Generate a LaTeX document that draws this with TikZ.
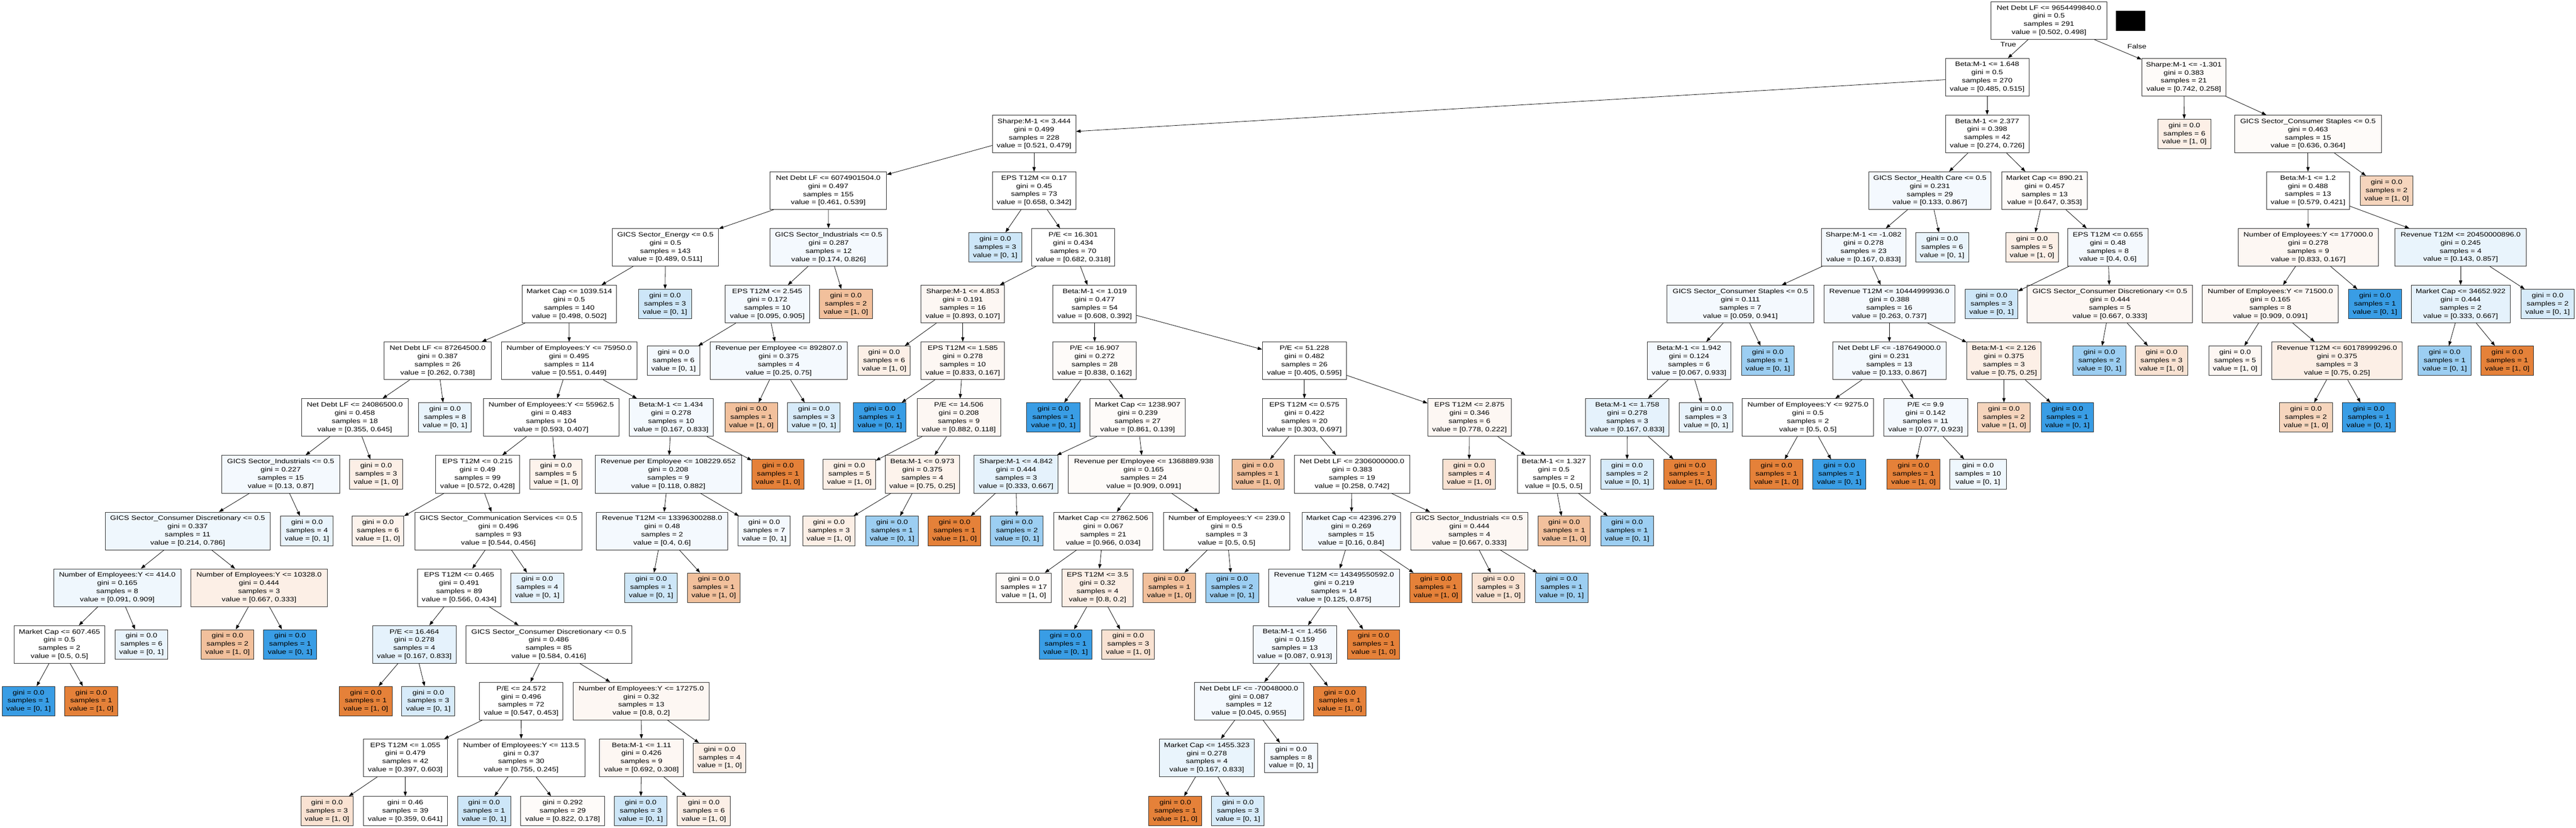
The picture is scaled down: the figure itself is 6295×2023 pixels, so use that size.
\documentclass[tikz,border=0pt]{standalone}
\usepackage{fontspec}
\setmainfont{Liberation Sans}[FakeStretch=1.22]
\usetikzlibrary{arrows.meta}
\definecolor{Ofull}{HTML}{E58139}
\definecolor{Bfull}{HTML}{399DE5}
\definecolor{Om}{HTML}{F2C09C}
\definecolor{Ol}{HTML}{F6D5BD}
\definecolor{Oltwo}{HTML}{F9E2D2}
\definecolor{Op}{HTML}{FCEFE6}
\definecolor{Optwo}{HTML}{FDF3EC}
\definecolor{Ovp}{HTML}{FDF7F3}
\definecolor{Oxp}{HTML}{FEFBF9}
\definecolor{Bm}{HTML}{9CCEF2}
\definecolor{Bl}{HTML}{CDE6F8}
\definecolor{Bltwo}{HTML}{D7EBFA}
\definecolor{Bptwo}{HTML}{E5F2FC}
\definecolor{Bp}{HTML}{E9F4FC}
\definecolor{Bq}{HTML}{EFF7FD}
\definecolor{Bvp}{HTML}{F4F9FE}
\definecolor{W}{HTML}{FFFFFF}
\newcommand{\nd}[6]{\node[#5,fill=#4,minimum width=#3bp] (#1) at (#2) {#6};}
\newcommand{\lf}[6]{\node[leafbox,fill=#4,minimum width=#3bp] (#1) at (#2) {gini = 0.0\\samples = #5\\value = #6};}
\begin{document}
\begin{tikzpicture}[x=1bp,y=-1bp,
  box/.style={draw=black!85,line width=1.1bp,rectangle,align=center,inner sep=0pt,
    font=\fontsize{15.5bp}{20bp}\selectfont},
  splitbox/.style={box,minimum height=92bp},
  leafbox/.style={box,minimum height=72bp},
  edge/.style={line width=1bp,-{Triangle[length=11bp,width=8bp]}},
  lbl/.style={font=\fontsize{15.5bp}{20bp}\selectfont,inner sep=0pt}]
\fill[white] (0,0) rectangle (6295,2023);
\useasboundingbox (0,0) rectangle (6295,2023);
% rank 0
\nd{n0}{5007,50}{284}{W}{splitbox}{Net Debt LF <= 9654499840.0\\gini = 0.5\\samples = 291\\value = [0.502, 0.498]}
\node[fill=black,minimum width=72bp,minimum height=49bp,inner sep=0pt] (blk) at (5207,50.5) {};
% rank 1
\nd{n1}{4856,188.6}{204}{W}{splitbox}{Beta:M-1 <= 1.648\\gini = 0.5\\samples = 270\\value = [0.485, 0.515]}
\nd{n2}{5336.5,188.6}{205}{Oxp}{splitbox}{Sharpe:M-1 <= -1.301\\gini = 0.383\\samples = 21\\value = [0.742, 0.258]}
% rank 2
\nd{n3}{2527,327.2}{204}{W}{splitbox}{Sharpe:M-1 <= 3.444\\gini = 0.499\\samples = 228\\value = [0.521, 0.479]}
\nd{n4}{4856,327.2}{204}{W}{splitbox}{Beta:M-1 <= 2.377\\gini = 0.398\\samples = 42\\value = [0.274, 0.726]}
\lf{n5}{5338,327.2}{130}{Op}{6}{[1, 0]}
\nd{n6}{5640,327.2}{358}{Oxp}{splitbox}{GICS Sector\_Consumer Staples <= 0.5\\gini = 0.463\\samples = 15\\value = [0.636, 0.364]}
% rank 3
\nd{n7}{2024,465.8}{285}{W}{splitbox}{Net Debt LF <= 6074901504.0\\gini = 0.497\\samples = 155\\value = [0.461, 0.539]}
\nd{n8}{2527,465.8}{204}{W}{splitbox}{EPS T12M <= 0.17\\gini = 0.45\\samples = 73\\value = [0.658, 0.342]}
\nd{n9}{4716,465.8}{298}{Bvp}{splitbox}{GICS Sector\_Health Care <= 0.5\\gini = 0.231\\samples = 29\\value = [0.133, 0.867]}
\nd{n10}{4996.5,465.8}{209}{Oxp}{splitbox}{Market Cap <= 890.21\\gini = 0.457\\samples = 13\\value = [0.647, 0.353]}
\nd{n11}{5640,465.8}{203}{W}{splitbox}{Beta:M-1 <= 1.2\\gini = 0.488\\samples = 13\\value = [0.579, 0.421]}
\lf{n12}{5832,465.8}{128}{Ol}{2}{[1, 0]}
% rank 4
\nd{n13}{1626,604.4}{260}{W}{splitbox}{GICS Sector\_Energy <= 0.5\\gini = 0.5\\samples = 143\\value = [0.489, 0.511]}
\nd{n14}{2025,604.4}{286}{Bvp}{splitbox}{GICS Sector\_Industrials <= 0.5\\gini = 0.287\\samples = 12\\value = [0.174, 0.826]}
\lf{n15}{2432,604.4}{129}{Bl}{3}{[0, 1]}
\nd{n16}{2622.5,604.4}{202}{W}{splitbox}{P/E <= 16.301\\gini = 0.434\\samples = 70\\value = [0.682, 0.318]}
\nd{n17}{4554,604.4}{207}{Bvp}{splitbox}{Sharpe:M-1 <= -1.082\\gini = 0.278\\samples = 23\\value = [0.167, 0.833]}
\lf{n18}{4746,604.4}{129}{Bp}{6}{[0, 1]}
\lf{n19}{4965.6,604.4}{128}{Op}{5}{[1, 0]}
\nd{n20}{5151,604.4}{197}{Bvp}{splitbox}{EPS T12M <= 0.655\\gini = 0.48\\samples = 8\\value = [0.4, 0.6]}
\nd{n21}{5640.6,604.4}{342}{Ovp}{splitbox}{Number of Employees:Y <= 177000.0\\gini = 0.278\\samples = 9\\value = [0.833, 0.167]}
\nd{n22}{6013,604.4}{321}{Bp}{splitbox}{Revenue T12M <= 20450000896.0\\gini = 0.245\\samples = 4\\value = [0.143, 0.857]}
% rank 5
\nd{n23}{1391,743}{230}{W}{splitbox}{Market Cap <= 1039.514\\gini = 0.5\\samples = 140\\value = [0.498, 0.502]}
\lf{n24}{1625,743}{130}{Bl}{3}{[0, 1]}
\nd{n25}{1875,743}{206}{Bvp}{splitbox}{EPS T12M <= 2.545\\gini = 0.172\\samples = 10\\value = [0.095, 0.905]}
\lf{n26}{2067,743}{130}{Om}{2}{[1, 0]}
\nd{n27}{2352.7,743}{204}{Ovp}{splitbox}{Sharpe:M-1 <= 4.853\\gini = 0.191\\samples = 16\\value = [0.893, 0.107]}
\nd{n28}{2675,743}{204}{W}{splitbox}{Beta:M-1 <= 1.019\\gini = 0.477\\samples = 54\\value = [0.608, 0.392]}
\nd{n29}{4253,743}{359}{Bvp}{splitbox}{GICS Sector\_Consumer Staples <= 0.5\\gini = 0.111\\samples = 7\\value = [0.059, 0.941]}
\nd{n30}{4617,743}{320}{Bvp}{splitbox}{Revenue T12M <= 10444999936.0\\gini = 0.388\\samples = 16\\value = [0.263, 0.737]}
\lf{n31}{4866.6,743}{129}{Bl}{3}{[0, 1]}
\nd{n32}{5156,743}{404}{Ovp}{splitbox}{GICS Sector\_Consumer Discretionary <= 0.5\\gini = 0.444\\samples = 5\\value = [0.667, 0.333]}
\nd{n33}{5548,743}{332}{Ovp}{splitbox}{Number of Employees:Y <= 71500.0\\gini = 0.165\\samples = 8\\value = [0.909, 0.091]}
\lf{n34}{5803.6,743}{129}{Bfull}{1}{[0, 1]}
\nd{n35}{6013,743}{241.5}{Bptwo}{splitbox}{Market Cap <= 34652.922\\gini = 0.444\\samples = 2\\value = [0.333, 0.667]}
\lf{n36}{6225.6,743}{130}{Bltwo}{2}{[0, 1]}
% rank 6
\nd{n37}{1069.5,881.6}{261}{W}{splitbox}{Net Debt LF <= 87264500.0\\gini = 0.387\\samples = 26\\value = [0.262, 0.738]}
\nd{n38}{1390.7,881.6}{331}{W}{splitbox}{Number of Employees:Y <= 75950.0\\gini = 0.495\\samples = 114\\value = [0.551, 0.449]}
\lf{n39}{1646,881.6}{128.5}{Bvp}{6}{[0, 1]}
\nd{n40}{1903,881.6}{335}{Bvp}{splitbox}{Revenue per Employee <= 892807.0\\gini = 0.375\\samples = 4\\value = [0.25, 0.75]}
\lf{n41}{2160.5,881.6}{127}{Op}{6}{[1, 0]}
\nd{n42}{2352.7,881.6}{204}{Ovp}{splitbox}{EPS T12M <= 1.585\\gini = 0.278\\samples = 10\\value = [0.833, 0.167]}
\nd{n43}{2675,881.6}{204}{Oxp}{splitbox}{P/E <= 16.907\\gini = 0.272\\samples = 28\\value = [0.838, 0.162]}
\nd{n44}{3187.5,881.6}{205}{W}{splitbox}{P/E <= 51.228\\gini = 0.482\\samples = 26\\value = [0.405, 0.595]}
\nd{n45}{4127.5,881.6}{205}{Bvp}{splitbox}{Beta:M-1 <= 1.942\\gini = 0.124\\samples = 6\\value = [0.067, 0.933]}
\lf{n46}{4320,881.6}{127.5}{Bm}{1}{[0, 1]}
\nd{n47}{4617,881.6}{276.6}{Bvp}{splitbox}{Net Debt LF <= -187649000.0\\gini = 0.231\\samples = 13\\value = [0.133, 0.867]}
\nd{n48}{4897,881.6}{181.5}{Op}{splitbox}{Beta:M-1 <= 2.126\\gini = 0.375\\samples = 3\\value = [0.75, 0.25]}
\lf{n49}{5130,881.6}{129}{Bm}{2}{[0, 1]}
\lf{n50}{5282,881.6}{129}{Oltwo}{3}{[1, 0]}
\lf{n51}{5462,881.6}{129}{Ovp}{5}{[1, 0]}
\nd{n52}{5711,881.6}{319}{Op}{splitbox}{Revenue T12M <= 60178999296.0\\gini = 0.375\\samples = 3\\value = [0.75, 0.25]}
\lf{n53}{5974,881.6}{130}{Bm}{1}{[0, 1]}
\lf{n54}{6127,881.6}{129}{Ofull}{1}{[1, 0]}
% rank 7
\nd{n55}{867,1020.2}{261}{W}{splitbox}{Net Debt LF <= 24086500.0\\gini = 0.458\\samples = 18\\value = [0.355, 0.645]}
\lf{n56}{1087.5,1020.2}{128.6}{Bp}{8}{[0, 1]}
\nd{n57}{1347,1020.2}{332}{W}{splitbox}{Number of Employees:Y <= 55962.5\\gini = 0.483\\samples = 104\\value = [0.593, 0.407]}
\nd{n58}{1640,1020.2}{205}{Bvp}{splitbox}{Beta:M-1 <= 1.434\\gini = 0.278\\samples = 10\\value = [0.167, 0.833]}
\lf{n59}{1836,1020.2}{128.6}{Om}{1}{[1, 0]}
\lf{n60}{1989,1020.2}{128.6}{Bltwo}{3}{[0, 1]}
\lf{n61}{2150,1020.2}{128.6}{Bfull}{1}{[0, 1]}
\nd{n62}{2343,1020.2}{204}{Ovp}{splitbox}{P/E <= 14.506\\gini = 0.208\\samples = 9\\value = [0.882, 0.118]}
\lf{n63}{2574,1020.2}{130}{Bfull}{1}{[0, 1]}
\nd{n64}{2780,1020.2}{233}{Oxp}{splitbox}{Market Cap <= 1238.907\\gini = 0.239\\samples = 27\\value = [0.861, 0.139]}
\nd{n65}{3187.5,1020.2}{205}{W}{splitbox}{EPS T12M <= 0.575\\gini = 0.422\\samples = 20\\value = [0.303, 0.697]}
\nd{n66}{3591,1020.2}{204}{Ovp}{splitbox}{EPS T12M <= 2.875\\gini = 0.346\\samples = 6\\value = [0.778, 0.222]}
\nd{n67}{3976.5,1020.2}{205}{Bptwo}{splitbox}{Beta:M-1 <= 1.758\\gini = 0.278\\samples = 3\\value = [0.167, 0.833]}
\lf{n68}{4169,1020.2}{130}{Bp}{3}{[0, 1]}
\nd{n69}{4418,1020.2}{320.5}{W}{splitbox}{Number of Employees:Y <= 9275.0\\gini = 0.5\\samples = 2\\value = [0.5, 0.5]}
\nd{n70}{4705.5,1020.2}{205}{Bvp}{splitbox}{P/E <= 9.9\\gini = 0.142\\samples = 11\\value = [0.077, 0.923]}
\lf{n71}{4897,1020.2}{129}{Ol}{2}{[1, 0]}
\lf{n72}{5052,1020.2}{127}{Bfull}{1}{[0, 1]}
\lf{n73}{5635,1020.2}{129}{Ol}{2}{[1, 0]}
\lf{n74}{5788.6,1020.2}{129}{Bfull}{1}{[0, 1]}
% rank 8
\nd{n75}{686,1158.8}{288}{Bvp}{splitbox}{GICS Sector\_Industrials <= 0.5\\gini = 0.227\\samples = 15\\value = [0.13, 0.87]}
\lf{n76}{919,1158.8}{128.6}{Op}{3}{[1, 0]}
\nd{n77}{1167,1158.8}{205}{W}{splitbox}{EPS T12M <= 0.215\\gini = 0.49\\samples = 99\\value = [0.572, 0.428]}
\lf{n78}{1358.6,1158.8}{127}{Optwo}{5}{[1, 0]}
\nd{n79}{1633,1158.8}{357.6}{Bvp}{splitbox}{Revenue per Employee <= 108229.652\\gini = 0.208\\samples = 9\\value = [0.118, 0.882]}
\lf{n80}{1901,1158.8}{127}{Ofull}{1}{[1, 0]}
\lf{n81}{2075.5,1158.8}{128}{Op}{5}{[1, 0]}
\nd{n82}{2254,1158.8}{181}{Optwo}{splitbox}{Beta:M-1 <= 0.973\\gini = 0.375\\samples = 4\\value = [0.75, 0.25]}
\nd{n83}{2483,1158.8}{205}{Bptwo}{splitbox}{Sharpe:M-1 <= 4.842\\gini = 0.444\\samples = 3\\value = [0.333, 0.667]}
\nd{n84}{2795,1158.8}{368}{Oxp}{splitbox}{Revenue per Employee <= 1368889.938\\gini = 0.165\\samples = 24\\value = [0.909, 0.091]}
\lf{n85}{3074,1158.8}{127}{Om}{1}{[1, 0]}
\nd{n86}{3304,1158.8}{282.6}{W}{splitbox}{Net Debt LF <= 2306000000.0\\gini = 0.383\\samples = 19\\value = [0.258, 0.742]}
\lf{n87}{3590,1158.8}{128.6}{Oltwo}{4}{[1, 0]}
\nd{n88}{3797,1158.8}{178}{W}{splitbox}{Beta:M-1 <= 1.327\\gini = 0.5\\samples = 2\\value = [0.5, 0.5]}
\lf{n89}{3976,1158.8}{128.6}{Bltwo}{2}{[0, 1]}
\lf{n90}{4130,1158.8}{129}{Ofull}{1}{[1, 0]}
\lf{n91}{4341,1158.8}{129}{Ofull}{1}{[1, 0]}
\lf{n92}{4494.6,1158.8}{129}{Bfull}{1}{[0, 1]}
\lf{n93}{4676,1158.8}{129}{Ofull}{1}{[1, 0]}
\lf{n94}{4833.5,1158.8}{139}{Bq}{10}{[0, 1]}
% rank 9
\nd{n95}{458.6,1297.4}{403}{Bq}{splitbox}{GICS Sector\_Consumer Discretionary <= 0.5\\gini = 0.337\\samples = 11\\value = [0.214, 0.786]}
\lf{n96}{750,1297.4}{128.6}{Bp}{4}{[0, 1]}
\lf{n97}{923.4,1297.4}{127}{Optwo}{6}{[1, 0]}
\nd{n98}{1218,1297.4}{408.5}{W}{splitbox}{GICS Sector\_Communication Services <= 0.5\\gini = 0.496\\samples = 93\\value = [0.544, 0.456]}
\nd{n99}{1618,1297.4}{321.4}{Bvp}{splitbox}{Revenue T12M <= 13396300288.0\\gini = 0.48\\samples = 2\\value = [0.4, 0.6]}
\lf{n100}{1867.5,1297.4}{127}{Bvp}{7}{[0, 1]}
\lf{n101}{2025.5,1297.4}{127}{Op}{3}{[1, 0]}
\lf{n102}{2180,1297.4}{128.6}{Bm}{1}{[0, 1]}
\lf{n103}{2332.6,1297.4}{128.6}{Ofull}{1}{[1, 0]}
\lf{n104}{2485,1297.4}{128.6}{Bm}{2}{[0, 1]}
\nd{n105}{2696,1297.4}{242}{Oxp}{splitbox}{Market Cap <= 27862.506\\gini = 0.067\\samples = 21\\value = [0.966, 0.034]}
\nd{n106}{2997.5,1297.4}{309}{W}{splitbox}{Number of Employees:Y <= 239.0\\gini = 0.5\\samples = 3\\value = [0.5, 0.5]}
\nd{n107}{3302,1297.4}{241}{Bvp}{splitbox}{Market Cap <= 42396.279\\gini = 0.269\\samples = 15\\value = [0.16, 0.84]}
\nd{n108}{3590.7,1297.4}{285}{Ovp}{splitbox}{GICS Sector\_Industrials <= 0.5\\gini = 0.444\\samples = 4\\value = [0.667, 0.333]}
\lf{n109}{3822.5,1297.4}{127}{Om}{1}{[1, 0]}
\lf{n110}{3976,1297.4}{128.6}{Bm}{1}{[0, 1]}
% rank 10
\nd{n111}{286.6,1436}{311}{Bq}{splitbox}{Number of Employees:Y <= 414.0\\gini = 0.165\\samples = 8\\value = [0.091, 0.909]}
\nd{n112}{633,1436}{333.5}{Op}{splitbox}{Number of Employees:Y <= 10328.0\\gini = 0.444\\samples = 3\\value = [0.667, 0.333]}
\nd{n113}{1122,1436}{203.6}{W}{splitbox}{EPS T12M <= 0.465\\gini = 0.491\\samples = 89\\value = [0.566, 0.434]}
\lf{n114}{1313,1436}{130}{Bptwo}{4}{[0, 1]}
\lf{n115}{1591,1436}{128.6}{Bl}{1}{[0, 1]}
\lf{n116}{1744,1436}{128.6}{Om}{1}{[1, 0]}
\lf{n117}{2502,1436}{135}{Oxp}{17}{[1, 0]}
\nd{n118}{2682,1436}{174}{Op}{splitbox}{EPS T12M <= 3.5\\gini = 0.32\\samples = 4\\value = [0.8, 0.2]}
\lf{n119}{2857.5,1436}{128.6}{Om}{1}{[1, 0]}
\lf{n120}{3011,1436}{130}{Bm}{2}{[0, 1]}
\nd{n121}{3260,1436}{320}{Bvp}{splitbox}{Revenue T12M <= 14349550592.0\\gini = 0.219\\samples = 14\\value = [0.125, 0.875]}
\lf{n122}{3509,1436}{127}{Ofull}{1}{[1, 0]}
\lf{n123}{3662,1436}{128.6}{Oltwo}{3}{[1, 0]}
\lf{n124}{3816,1436}{128.6}{Bm}{1}{[0, 1]}
% rank 11
\nd{n125}{145.3,1574.6}{221}{W}{splitbox}{Market Cap <= 607.465\\gini = 0.5\\samples = 2\\value = [0.5, 0.5]}
\lf{n126}{345.6,1574.6}{128.6}{Bp}{6}{[0, 1]}
\lf{n127}{556,1574.6}{128.6}{Om}{2}{[1, 0]}
\lf{n128}{709,1574.6}{130}{Bfull}{1}{[0, 1]}
\nd{n129}{1012.4,1574.6}{203.6}{Bptwo}{splitbox}{P/E <= 16.464\\gini = 0.278\\samples = 4\\value = [0.167, 0.833]}
\nd{n130}{1341,1574.6}{405.8}{W}{splitbox}{GICS Sector\_Consumer Discretionary <= 0.5\\gini = 0.486\\samples = 85\\value = [0.584, 0.416]}
\lf{n131}{2604,1574.6}{128.6}{Bfull}{1}{[0, 1]}
\lf{n132}{2757,1574.6}{128.6}{Oltwo}{3}{[1, 0]}
\nd{n133}{3164,1574.6}{203.6}{Bvp}{splitbox}{Beta:M-1 <= 1.456\\gini = 0.159\\samples = 13\\value = [0.087, 0.913]}
\lf{n134}{3356.5,1574.6}{127}{Ofull}{1}{[1, 0]}
% rank 12
\lf{n135}{69.6,1713.2}{128.6}{Bfull}{1}{[0, 1]}
\lf{n136}{223,1713.2}{130}{Ofull}{1}{[1, 0]}
\lf{n137}{894,1713.2}{130}{Ofull}{1}{[1, 0]}
\lf{n138}{1046.6,1713.2}{130}{Bltwo}{3}{[0, 1]}
\nd{n139}{1273.6,1713.2}{203.6}{W}{splitbox}{P/E <= 24.572\\gini = 0.496\\samples = 72\\value = [0.547, 0.453]}
\nd{n140}{1567,1713.2}{332}{Ovp}{splitbox}{Number of Employees:Y <= 17275.0\\gini = 0.32\\samples = 13\\value = [0.8, 0.2]}
\nd{n141}{3052,1713.2}{266.5}{Bvp}{splitbox}{Net Debt LF <= -70048000.0\\gini = 0.087\\samples = 12\\value = [0.045, 0.955]}
\lf{n142}{3274,1713.2}{128.6}{Ofull}{1}{[1, 0]}
% rank 13
\nd{n143}{990.4,1851.8}{205}{W}{splitbox}{EPS T12M <= 1.055\\gini = 0.479\\samples = 42\\value = [0.397, 0.603]}
\nd{n144}{1273.7,1851.8}{311}{W}{splitbox}{Number of Employees:Y <= 113.5\\gini = 0.37\\samples = 30\\value = [0.755, 0.245]}
\nd{n145}{1567.6,1851.8}{205}{Ovp}{splitbox}{Beta:M-1 <= 1.11\\gini = 0.426\\samples = 9\\value = [0.692, 0.308]}
\lf{n146}{1758.5,1851.8}{128.6}{Op}{4}{[1, 0]}
\nd{n147}{2949,1851.8}{231.7}{Bp}{splitbox}{Market Cap <= 1455.323\\gini = 0.278\\samples = 4\\value = [0.167, 0.833]}
\lf{n148}{3155,1851.8}{128.6}{Bvp}{8}{[0, 1]}
% rank 14
\lf{n149}{799,1982}{127}{Oltwo}{3}{[1, 0]}
\nd{n150}{990.4,1982}{205}{W}{leafbox}{gini = 0.46\\samples = 39\\value = [0.359, 0.641]}
\lf{n151}{1183,1982}{130}{Bl}{1}{[0, 1]}
\nd{n152}{1375,1982}{205}{Oxp}{leafbox}{gini = 0.292\\samples = 29\\value = [0.822, 0.178]}
\lf{n153}{1565.6,1982}{128.6}{Bl}{3}{[0, 1]}
\lf{n154}{1720,1982}{130}{Op}{6}{[1, 0]}
\lf{n155}{2872,1982}{130}{Ofull}{1}{[1, 0]}
\lf{n156}{3025,1982}{128.6}{Bltwo}{3}{[0, 1]}
% edge labels
\node[lbl] (tlab) at (4907.6,109) {True};
\node[lbl] (flab) at (5222,114) {False};
% edges
\foreach \p/\c in {n0/n1,n0/n2,n1/n3,n1/n4,n2/n5,n2/n6,n3/n7,n3/n8,n4/n9,n4/n10,
  n6/n11,n6/n12,n7/n13,n7/n14,n8/n15,n8/n16,n9/n17,n9/n18,n10/n19,n10/n20,
  n11/n21,n11/n22,n13/n23,n13/n24,n14/n25,n14/n26,n16/n27,n16/n28,n17/n29,n17/n30,
  n20/n31,n20/n32,n21/n33,n21/n34,n22/n35,n22/n36,n23/n37,n23/n38,n25/n39,n25/n40,
  n27/n41,n27/n42,n28/n43,n28/n44,n29/n45,n29/n46,n30/n47,n30/n48,n32/n49,n32/n50,
  n33/n51,n33/n52,n35/n53,n35/n54,n37/n55,n37/n56,n38/n57,n38/n58,n40/n59,n40/n60,
  n42/n61,n42/n62,n43/n63,n43/n64,n44/n65,n44/n66,n45/n67,n45/n68,n47/n69,n47/n70,
  n48/n71,n48/n72,n52/n73,n52/n74,n55/n75,n55/n76,n57/n77,n57/n78,n58/n79,n58/n80,
  n62/n81,n62/n82,n64/n83,n64/n84,n65/n85,n65/n86,n66/n87,n66/n88,n67/n89,n67/n90,
  n69/n91,n69/n92,n70/n93,n70/n94,n75/n95,n75/n96,n77/n97,n77/n98,n79/n99,n79/n100,
  n82/n101,n82/n102,n83/n103,n83/n104,n84/n105,n84/n106,n86/n107,n86/n108,n88/n109,n88/n110,
  n95/n111,n95/n112,n98/n113,n98/n114,n99/n115,n99/n116,n105/n117,n105/n118,n106/n119,n106/n120,
  n107/n121,n107/n122,n108/n123,n108/n124,n111/n125,n111/n126,n112/n127,n112/n128,n113/n129,n113/n130,
  n118/n131,n118/n132,n121/n133,n121/n134,n125/n135,n125/n136,n129/n137,n129/n138,n130/n139,n130/n140,
  n133/n141,n133/n142,n139/n143,n139/n144,n140/n145,n140/n146,n141/n147,n141/n148,n143/n149,n143/n150,
  n144/n151,n144/n152,n145/n153,n145/n154,n147/n155,n147/n156}
  {\draw[edge] (\p) -- (\c);}
\end{tikzpicture}
\end{document}
